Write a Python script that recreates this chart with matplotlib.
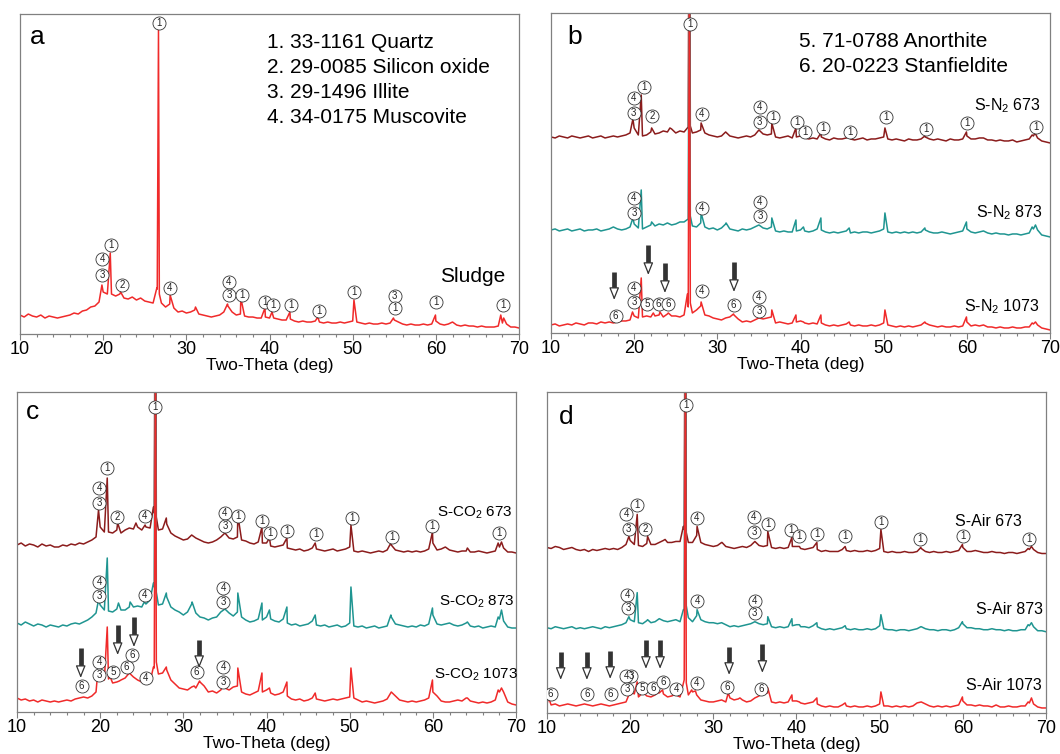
import numpy as np
import matplotlib
matplotlib.use('Agg')
import matplotlib.pyplot as plt

plt.rcParams['font.family'] = ['Liberation Sans', 'DejaVu Sans']
plt.rcParams['mathtext.fontset'] = 'custom'
plt.rcParams['mathtext.rm'] = 'Liberation Sans'

# 2-theta scan (deg); background read every 0.5 deg, peaks added as extra samples
two_theta = np.arange(10, 70.01, 0.5)

# ---- a: raw sludge
sludge_bg = [19, 17, 20, 18, 17, 19, 16, 18, 17, 16,
             17, 18, 19, 21, 20, 23, 24, 27, 28, 32,
             42, 40, 40, 38, 40, 36, 35, 37, 34, 36,
             33, 32, 31, 45, 31, 27, 30, 26, 22, 23,
             21, 22, 24, 20, 19, 18, 17, 18, 19, 22,
             28, 22, 19, 20, 18, 17, 17, 16, 16, 17,
             16, 16, 15, 14, 14, 15, 13, 12, 13, 12,
             12, 13, 12, 11, 12, 11, 11, 12, 11, 12,
             13, 12, 11, 10, 11, 10, 10, 11, 10, 11,
             14, 12, 10, 9, 10, 9, 9, 10, 9, 10,
             13, 10, 9, 10, 12, 9, 8, 9, 8, 8,
             7, 8, 7, 7, 7, 8, 11, 10, 7, 7,
             6]
sludge_peaks = [(19.85, 49), (20.85, 81), (22.1, 42), (26.45, 46), (26.65, 304), (26.75, 40),
                (28.05, 39), (31.1, 27), (34.95, 30), (36.55, 36), (39.45, 26), (40.3, 22),
                (42.45, 22), (45.8, 17), (50.15, 34), (54.9, 16), (59.95, 19), (67.8, 19), (68.15, 16)]

# ---- b: N2
n2_673_bg = [11, 10, 12, 11, 10, 12, 11, 10, 11, 12,
             10, 11, 12, 10, 11, 12, 11, 12, 13, 15,
             20, 13, 12, 13, 16, 14, 15, 17, 16, 19,
             15, 17, 16, 21, 15, 16, 18, 15, 13, 12,
             11, 12, 16, 12, 11, 10, 11, 12, 11, 13,
             18, 14, 13, 14, 11, 10, 11, 12, 10, 11,
             12, 10, 9, 10, 9, 11, 9, 8, 10, 9,
             9, 10, 9, 8, 9, 10, 8, 9, 9, 10,
             11, 9, 8, 9, 8, 7, 9, 8, 8, 9,
             11, 9, 8, 9, 8, 7, 9, 8, 8, 9,
             12, 9, 9, 10, 10, 8, 8, 7, 8, 7,
             7, 8, 6, 7, 8, 9, 12, 10, 7, 6,
             5]
n2_673_peaks = [(19.85, 29), (20.85, 53), (22.1, 20), (24.3, 20), (26.65, 400), (26.75, 22),
                (28.05, 25), (36.55, 25), (39.45, 20), (40.35, 13), (42.45, 15), (45.85, 11),
                (50.15, 20), (54.95, 12), (59.95, 16), (67.85, 13), (68.2, 15)]

n2_873_bg = [11, 12, 10, 11, 12, 10, 11, 12, 10, 11,
             11, 12, 10, 11, 12, 14, 12, 11, 12, 14,
             17, 13, 12, 14, 16, 15, 17, 16, 18, 16,
             17, 19, 19, 22, 15, 14, 18, 14, 12, 13,
             11, 13, 17, 12, 11, 10, 12, 11, 12, 14,
             16, 13, 12, 14, 10, 9, 10, 9, 9, 10,
             11, 10, 9, 10, 12, 11, 9, 8, 9, 8,
             9, 10, 8, 9, 8, 9, 9, 8, 9, 10,
             12, 9, 8, 9, 8, 9, 8, 9, 8, 9,
             11, 9, 8, 8, 9, 8, 7, 8, 9, 10,
             12, 9, 8, 9, 10, 8, 7, 8, 7, 7,
             6, 7, 7, 6, 7, 8, 12, 11, 6, 5,
             4]
n2_873_peaks = [(19.85, 23), (20.85, 51), (22.1, 19), (26.65, 400), (26.75, 25), (28.05, 28),
                (31.05, 18), (36.55, 23), (39.45, 21), (40.35, 14), (42.45, 23), (45.85, 13),
                (50.15, 28), (54.95, 13), (59.95, 19), (67.85, 14), (68.25, 16)]

n2_1073_bg = [8, 9, 7, 8, 9, 8, 10, 9, 8, 10,
              10, 9, 11, 10, 11, 10, 11, 12, 12, 13,
              17, 15, 16, 17, 16, 17, 18, 16, 19, 17,
              17, 16, 18, 26, 20, 23, 27, 18, 17, 15,
              14, 13, 15, 16, 18, 14, 11, 12, 11, 13,
              15, 14, 15, 16, 10, 11, 10, 9, 10, 11,
              12, 10, 9, 10, 9, 10, 8, 7, 8, 7,
              8, 9, 8, 7, 8, 7, 7, 8, 7, 8,
              10, 8, 7, 6, 7, 6, 7, 6, 7, 8,
              10, 8, 7, 6, 7, 6, 6, 7, 6, 7,
              11, 7, 8, 7, 8, 6, 6, 5, 6, 5,
              5, 6, 5, 5, 6, 6, 9, 8, 5, 4,
              3]
n2_1073_peaks = [(19.8, 21), (20.85, 55), (22.3, 20), (23.1, 21), (24.1, 20), (26.4, 39),
                 (26.65, 400), (26.75, 30), (28.05, 31), (31.95, 19), (36.55, 23), (39.45, 18),
                 (40.35, 11), (42.45, 18), (45.85, 11), (50.15, 23), (54.95, 11), (59.95, 16),
                 (67.85, 10), (68.25, 11)]

# ---- c: CO2
co2_673_bg = [12, 14, 11, 13, 12, 10, 13, 11, 12, 10,
              10, 12, 11, 13, 12, 14, 13, 15, 17, 20,
              30, 25, 25, 24, 27, 24, 27, 29, 28, 30,
              27, 30, 29, 44, 27, 28, 33, 24, 21, 19,
              17, 18, 22, 19, 17, 15, 14, 15, 17, 20,
              24, 19, 18, 20, 17, 16, 14, 13, 15, 14,
              14, 11, 10, 11, 12, 9, 8, 7, 8, 6,
              7, 9, 8, 7, 6, 7, 8, 6, 7, 8,
              10, 6, 5, 6, 5, 4, 5, 6, 5, 7,
              12, 7, 6, 5, 6, 5, 6, 5, 6, 8,
              14, 7, 8, 10, 7, 6, 5, 6, 6, 5,
              5, 6, 5, 4, 5, 6, 10, 9, 5, 5,
              4]
co2_673_peaks = [(19.8, 47), (20.85, 79), (22.1, 34), (24.3, 34), (25.4, 32), (26.4, 50),
                 (26.65, 400), (26.75, 40), (27.95, 39), (36.55, 42), (39.45, 30), (40.35, 19),
                 (42.45, 19), (45.85, 14), (50.15, 32), (54.95, 14), (59.95, 25), (64.15, 9),
                 (67.85, 14), (68.25, 15)]

co2_873_bg = [14, 12, 15, 13, 11, 13, 12, 10, 12, 11,
              10, 12, 11, 13, 14, 13, 15, 17, 20, 24,
              32, 27, 26, 25, 28, 27, 27, 30, 30, 31,
              30, 33, 37, 50, 32, 33, 40, 30, 27, 25,
              22, 25, 33, 24, 20, 19, 17, 19, 20, 25,
              28, 24, 21, 25, 20, 17, 15, 16, 18, 17,
              20, 18, 16, 15, 18, 14, 12, 13, 11, 12,
              13, 16, 12, 11, 12, 10, 11, 12, 10, 11,
              14, 11, 10, 11, 9, 10, 11, 9, 10, 11,
              20, 13, 12, 11, 10, 11, 10, 12, 11, 13,
              22, 13, 12, 13, 14, 12, 11, 12, 14, 11,
              10, 11, 9, 10, 11, 10, 18, 16, 10, 9,
              9]
co2_873_peaks = [(19.8, 37), (20.85, 79), (22.2, 34), (23.6, 35), (25.3, 35), (26.4, 54),
                 (26.65, 400), (26.75, 45), (27.95, 44), (31.05, 35), (36.55, 44), (39.45, 34),
                 (40.35, 27), (42.45, 30), (45.85, 22), (50.15, 50), (54.95, 22), (59.95, 29),
                 (64.15, 15), (67.85, 20), (68.25, 27)]

co2_1073_bg = [14, 12, 13, 11, 12, 10, 12, 11, 10, 11,
               10, 11, 12, 11, 13, 14, 15, 14, 16, 20,
               34, 32, 33, 29, 30, 32, 34, 39, 35, 32,
               30, 29, 30, 44, 38, 39, 42, 32, 28, 24,
               23, 22, 25, 24, 30, 26, 20, 21, 19, 22,
               24, 22, 25, 26, 20, 18, 17, 19, 21, 20,
               22, 19, 17, 18, 20, 16, 13, 12, 13, 11,
               12, 14, 13, 12, 11, 12, 13, 12, 13, 14,
               15, 14, 12, 10, 11, 10, 9, 10, 11, 13,
               20, 16, 12, 11, 10, 11, 10, 11, 12, 14,
               20, 16, 11, 10, 10, 11, 12, 11, 14, 11,
               10, 9, 10, 9, 10, 12, 20, 20, 10, 8,
               7]
co2_1073_peaks = [(19.7, 39), (20.85, 85), (21.2, 35), (22.3, 31), (26.4, 45), (26.65, 400),
                  (26.75, 50), (27.95, 45), (31.3, 26), (31.95, 31), (34.8, 26), (36.55, 44),
                  (39.45, 39), (40.35, 24), (42.45, 30), (45.85, 19), (50.15, 44), (59.95, 32),
                  (64.15, 14), (67.85, 22), (68.25, 24)]

# ---- d: Air
air_673_bg = [10, 9, 11, 10, 8, 9, 10, 8, 7, 8,
              6, 8, 7, 8, 9, 8, 9, 8, 10, 13,
              17, 13, 12, 11, 14, 13, 13, 15, 17, 15,
              15, 16, 16, 28, 15, 15, 22, 15, 13, 12,
              11, 12, 15, 11, 10, 9, 10, 11, 10, 12,
              16, 12, 11, 12, 10, 9, 10, 9, 10, 11,
              11, 9, 8, 9, 10, 8, 6, 7, 6, 6,
              6, 8, 7, 6, 7, 6, 6, 7, 6, 7,
              9, 6, 5, 6, 5, 5, 6, 5, 5, 6,
              9, 6, 5, 6, 5, 5, 6, 5, 6, 7,
              10, 6, 6, 7, 6, 5, 5, 6, 5, 5,
              4, 5, 5, 4, 5, 6, 8, 8, 5, 4,
              4]
air_673_peaks = [(19.85, 21), (20.85, 43), (22.1, 21), (24.2, 18), (26.4, 31), (26.65, 400),
                 (26.75, 25), (28.05, 31), (31.05, 15), (36.55, 26), (39.45, 20), (40.35, 11),
                 (42.45, 15), (45.85, 11), (50.15, 28), (54.95, 10), (59.95, 13), (67.85, 9),
                 (68.25, 11)]

air_873_bg = [8, 7, 9, 8, 7, 8, 9, 7, 8, 7,
              8, 9, 8, 7, 9, 8, 9, 10, 11, 13,
              16, 14, 13, 12, 15, 13, 14, 17, 15, 14,
              15, 16, 14, 26, 18, 14, 20, 16, 14, 13,
              13, 12, 13, 11, 9, 10, 9, 10, 11, 12,
              14, 12, 11, 12, 9, 8, 9, 8, 9, 10,
              11, 9, 9, 8, 10, 9, 7, 6, 7, 6,
              7, 8, 7, 6, 7, 6, 6, 7, 6, 7,
              10, 7, 6, 6, 5, 6, 6, 5, 6, 7,
              9, 7, 6, 6, 5, 6, 6, 5, 6, 8,
              12, 8, 8, 7, 7, 6, 6, 7, 6, 6,
              5, 6, 5, 5, 6, 6, 10, 9, 5, 5,
              4]
air_873_peaks = [(19.85, 19), (20.85, 43), (22.1, 16), (26.4, 26), (26.65, 400), (26.75, 30),
                 (28.05, 26), (36.55, 19), (39.45, 17), (40.35, 11), (42.45, 13), (45.85, 10),
                 (50.15, 21), (54.95, 9), (59.95, 14), (67.85, 11), (68.25, 13)]

air_1073_bg = [9, 8, 9, 7, 8, 9, 8, 7, 8, 9,
               8, 7, 8, 9, 8, 7, 8, 9, 10, 11,
               18, 19, 16, 20, 17, 16, 18, 20, 19, 16,
               17, 18, 16, 33, 18, 21, 18, 13, 12, 11,
               11, 12, 13, 11, 15, 13, 14, 13, 11, 12,
               15, 17, 19, 20, 11, 10, 11, 10, 11, 12,
               12, 10, 9, 10, 11, 9, 7, 6, 7, 6,
               6, 8, 7, 6, 7, 6, 6, 7, 6, 7,
               9, 7, 7, 6, 7, 6, 7, 6, 7, 10,
               11, 9, 7, 6, 7, 6, 7, 6, 7, 8,
               12, 8, 8, 7, 8, 7, 7, 6, 8, 6,
               6, 7, 6, 6, 7, 7, 10, 9, 6, 5,
               5]
air_1073_peaks = [(10.2, 15), (19.85, 18), (20.3, 20), (20.85, 31), (21.6, 20), (23.3, 20),
                  (23.9, 23), (25.3, 18), (26.65, 400), (26.75, 30), (27.4, 23), (27.85, 22),
                  (31.8, 20), (33.2, 15), (35.8, 20), (36.55, 25), (39.45, 18), (40.35, 11),
                  (42.45, 15), (45.85, 10), (50.15, 21), (59.95, 16), (67.85, 11), (68.25, 15)]

# stacking offsets (1073, 873, 673)
offsets_b = [0, 92, 185]
offsets_c = [0, 75, 155]
offsets_d = [0, 77, 155]

c_red = '#f02a2a'
c_teal = '#1f9591'
c_dark = '#8b1c1c'

# circled phase marks (2theta, height, phase no.)
marks_a = [(26.71, 311, '1'), (20.94, 89, '1'), (19.86, 75, '4'), (19.86, 59, '3'), (22.26, 49, '2'),
           (28.03, 46, '4'), (35.12, 52, '4'), (35.12, 39, '3'), (36.68, 39, '1'), (39.45, 32, '1'),
           (40.41, 29, '1'), (42.57, 29, '1'), (45.94, 23, '1'), (50.14, 42, '1'), (55.07, 38, '3'),
           (55.07, 26, '1'), (60.0, 32, '1'), (68.05, 29, '1')]
marks_b = [(26.74, 309, '1'), (21.18, 246, '1'), (19.94, 235, '4'), (19.94, 220, '3'), (22.18, 217, '2'),
           (28.15, 219, '4'), (35.08, 226, '4'), (35.08, 211, '3'), (36.68, 216, '1'), (39.6, 211, '1'),
           (40.53, 201, '1'), (42.69, 205, '1'), (45.94, 201, '1'), (50.26, 216, '1'), (55.07, 204, '1'),
           (60.0, 210, '1'), (68.29, 206, '1'),
           (19.98, 135, '4'), (19.98, 120, '3'), (28.15, 125, '4'), (35.12, 131, '4'), (35.12, 117, '3'),
           (19.98, 45, '4'), (19.98, 31, '3'), (21.54, 29, '5'), (22.94, 29, '6'), (24.06, 29, '6'),
           (28.15, 42, '4'), (31.96, 28, '6'), (35.0, 36, '4'), (35.0, 22, '3'), (17.78, 17, '6')]
marks_c = [(26.62, 305, '1'), (20.85, 244, '1'), (19.86, 224, '4'), (19.86, 209, '3'), (22.06, 195, '2'),
           (25.38, 196, '4'), (35.0, 199, '4'), (35.0, 186, '3'), (36.6, 196, '1'), (39.41, 191, '1'),
           (40.41, 179, '1'), (42.49, 181, '1'), (45.94, 178, '1'), (50.23, 194, '1'), (55.04, 175, '1'),
           (59.92, 186, '1'), (67.93, 179, '1'),
           (19.86, 130, '4'), (19.86, 116, '3'), (25.38, 117, '4'), (34.8, 124, '4'), (34.8, 110, '3'),
           (19.86, 50, '4'), (19.86, 37, '3'), (21.57, 40, '5'), (23.18, 45, '6'), (23.86, 57, '6'),
           (25.47, 34, '4'), (31.6, 40, '6'), (34.8, 45, '4'), (34.8, 30, '3'), (17.78, 26, '6')]
marks_d = [(26.67, 307, '1'), (20.85, 207, '1'), (19.53, 198, '4'), (19.82, 183, '3'), (21.81, 183, '2'),
           (28.03, 194, '4'), (34.88, 195, '4'), (34.88, 180, '3'), (36.56, 188, '1'), (39.36, 182, '1'),
           (40.29, 176, '1'), (42.42, 178, '1'), (45.82, 176, '1'), (50.11, 190, '1'), (54.83, 173, '1'),
           (59.96, 176, '1'), (67.97, 173, '1'),
           (19.65, 118, '4'), (19.74, 105, '3'), (28.06, 112, '4'), (34.96, 112, '4'), (34.96, 100, '3'),
           (10.44, 19, '6'), (14.81, 19, '6'), (17.66, 19, '6'), (20.1, 37, '3'), (19.53, 37, '4'),
           (19.65, 24, '3'), (21.45, 25, '5'), (22.74, 25, '6'), (23.94, 31, '6'), (25.54, 24, '4'),
           (28.03, 30, '4'), (31.67, 26, '6'), (35.76, 24, '6')]

# new-phase arrows (2theta, tail, tip)
arrows_b = [(17.6, 61, 33), (21.7, 88, 58), (23.7, 70, 40), (32.0, 71, 41)]
arrows_c = [(17.66, 64, 34), (22.1, 87, 57), (24.06, 95, 65), (31.9, 72, 44)]
arrows_d = [(11.65, 61, 33), (14.8, 61, 33), (17.6, 62, 34), (21.9, 73, 44),
            (23.6, 73, 44), (31.9, 66, 38), (35.9, 69, 40)]


def trace(bg, peaks):
    px, py = zip(*peaks)
    x = np.concatenate([two_theta, px])
    y = np.concatenate([bg, py])
    o = np.argsort(x, kind='stable')
    return x[o], y[o]


def setup(ax, letter, lx, ly):
    ax.set_xlim(10, 70)
    ax.set_ylim(0, 320)
    ax.set_yticks([])
    ax.set_xticks(range(10, 71, 10))
    ax.set_xticks(range(10, 71, 2), minor=True)
    ax.tick_params(axis='x', which='major', direction='out', length=4, width=0.8,
                   color='#808080', labelsize=13, pad=1)
    ax.tick_params(axis='x', which='minor', direction='out', length=2.5, width=0.8, color='#808080')
    for s in ax.spines.values():
        s.set_color('#808080')
        s.set_linewidth(0.9)
    ax.set_xlabel('Two-Theta (deg)', fontsize=12.5, labelpad=0)
    ax.text(lx, ly, letter, transform=ax.transAxes, fontsize=19, ha='center', va='center')


def marks(ax, items):
    for x, y, n in items:
        ax.plot(x, y, 'o', ms=9.4, mfc='white', mec='#333333', mew=0.6, zorder=5)
        ax.text(x, y, n, fontsize=7, ha='center', va='center', color='#222222', zorder=6)


def arrows(ax, items):
    for x, tail, tip in items:
        ax.plot([x, x], [tail, tip + 9], color='#333333', lw=3.4, solid_capstyle='butt', zorder=4)
        ax.annotate('', xy=(x, tip), xytext=(x, tip + 11),
                    arrowprops=dict(arrowstyle='-|>,head_length=0.75,head_width=0.3',
                                    fc='white', ec='#333333', lw=0.9, shrinkA=0, shrinkB=0),
                    zorder=5)


fig = plt.figure(figsize=(10.6, 7.54), dpi=100)
ax_a = fig.add_axes([0.01887, 0.5570, 0.4708, 0.4244])
ax_b = fig.add_axes([0.5198, 0.5584, 0.4708, 0.4244])
ax_c = fig.add_axes([0.01604, 0.0557, 0.4708, 0.4244])
ax_d = fig.add_axes([0.5160, 0.0544, 0.4708, 0.4257])

# a
x, y = trace(sludge_bg, sludge_peaks)
ax_a.plot(x, y, color=c_red, lw=1.1)
setup(ax_a, 'a', 0.034, 0.928)
marks(ax_a, marks_a)
legend_a = ['1. 33-1161 Quartz', '2. 29-0085 Silicon oxide', '3. 29-1496 Illite', '4. 34-0175 Muscovite']
for i, t in enumerate(legend_a):
    ax_a.text(39.7, 292 - 25 * i, t, fontsize=15, va='center', ha='left')
ax_a.text(64.45, 58, 'Sludge', fontsize=15, ha='center', va='center')

# b, c, d
panels = [
    (ax_b, 'b', (0.048, 0.925),
     [n2_1073_bg, n2_873_bg, n2_673_bg], [n2_1073_peaks, n2_873_peaks, n2_673_peaks], offsets_b,
     ['S-N$_\\mathrm{2}$ 1073', 'S-N$_\\mathrm{2}$ 873', 'S-N$_\\mathrm{2}$ 673'],
     [(68.77, 26), (69.13, 120), (68.86, 227)], marks_b, arrows_b, 11.5),
    (ax_c, 'c', (0.032, 0.9375),
     [co2_1073_bg, co2_873_bg, co2_673_bg], [co2_1073_peaks, co2_873_peaks, co2_673_peaks], offsets_c,
     ['S-CO$_\\mathrm{2}$ 1073', 'S-CO$_\\mathrm{2}$ 873', 'S-CO$_\\mathrm{2}$ 673'],
     [(70.2, 37), (69.86, 110), (69.6, 199)], marks_c, arrows_c, 11),
    (ax_d, 'd', (0.038, 0.922),
     [air_1073_bg, air_873_bg, air_673_bg], [air_1073_peaks, air_873_peaks, air_673_peaks], offsets_d,
     ['S-Air 1073', 'S-Air 873', 'S-Air 673'],
     [(69.46, 27), (69.58, 103), (67.05, 191)], marks_d, arrows_d, 11.5),
]
colors = [c_red, c_teal, c_dark]
for ax, letter, lpos, bgs, pks, offs, names, npos, mk, arr, fs in panels:
    for k in [2, 1, 0]:
        x, y = trace(bgs[k], pks[k])
        ax.plot(x, np.asarray(y) + offs[k], color=colors[k], lw=1.1)
    setup(ax, letter, *lpos)
    marks(ax, mk)
    arrows(ax, arr)
    for name, (tx, ty) in zip(names, npos):
        ax.text(tx, ty, name, fontsize=fs, ha='right', va='center')

ax_b.text(39.8, 291, '5. 71-0788 Anorthite', fontsize=15, va='center', ha='left')
ax_b.text(39.8, 266, '6. 20-0223 Stanfieldite', fontsize=15, va='center', ha='left')

fig.savefig('out.png', dpi=100)
